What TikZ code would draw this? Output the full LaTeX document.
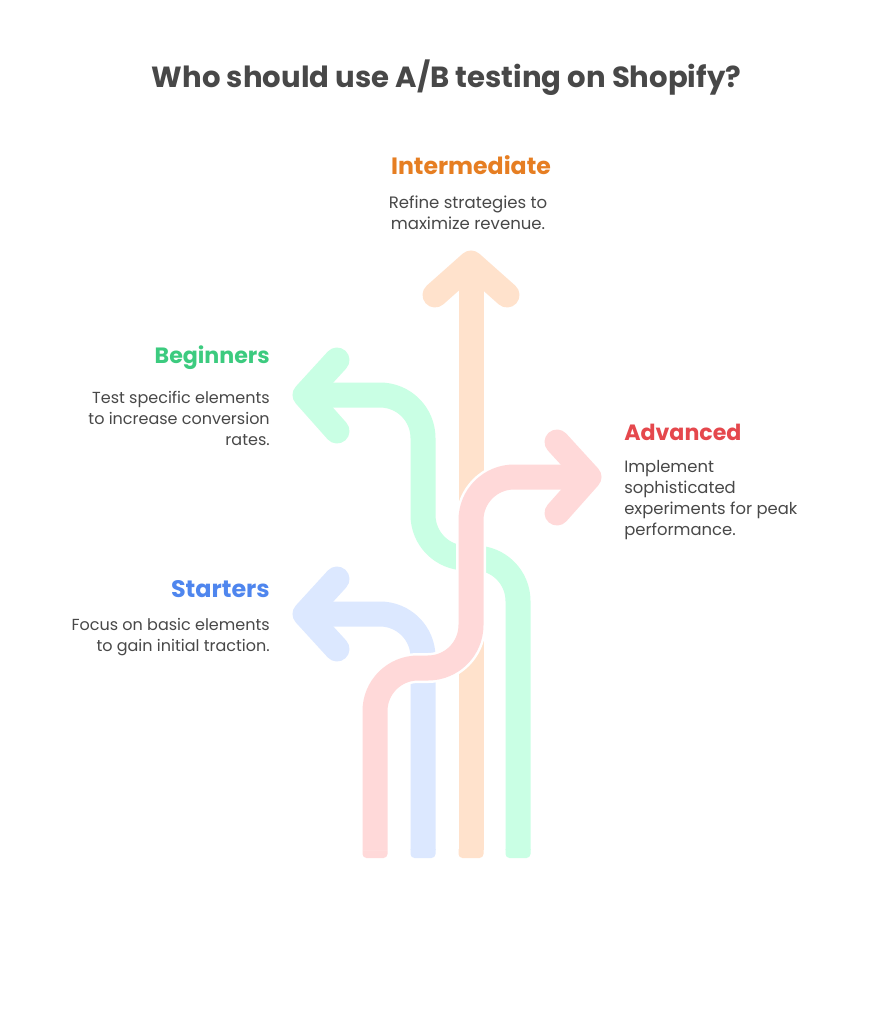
\documentclass[tikz,border=0pt]{standalone}
\usepackage{fontspec}
\setmainfont{Poppins}
\definecolor{redpale}{HTML}{FFD9D9}
\definecolor{bluepale}{HTML}{DCE8FF}
\definecolor{orangepale}{HTML}{FFE2CC}
\definecolor{greenpale}{HTML}{C9FFE4}
\definecolor{redhead}{HTML}{E5484D}
\definecolor{bluehead}{HTML}{4F86EE}
\definecolor{orangehead}{HTML}{E67E22}
\definecolor{greenhead}{HTML}{3CCB7F}
\definecolor{inkgrey}{HTML}{484848}
\tikzset{
	band/.style={line width=18.75pt,line join=round},
	tip/.style={line width=18.75pt,line join=round,line cap=round},
	halo/.style={line width=22.5pt,white},
	heading/.style={font=\fontsize{#1}{20}\selectfont\bfseries,inner sep=0pt},
	body/.style={font=\fontsize{#1}{15.75}\selectfont,text=inkgrey,inner sep=0pt}
}
\begin{document}
\begin{tikzpicture}[x=0.75pt,y=-0.75pt]
	\useasboundingbox (0,0) rectangle (893,1024);
	\fill[white] (0,0) rectangle (893,1024);
	\draw[band,orangepale] (471,850) -- (471,270);
	\draw[tip,orangepale] (435,295) -- (471,263) -- (507,295);
	\draw[band,greenpale] (518,850) -- (518,601) arc (0:-90:43) -- (466,558) arc (90:180:43) -- (423,438) arc (0:-90:43) -- (320,395);
	\draw[tip,greenpale] (337,360) -- (305,395) -- (337,431);
	\draw[band,bluepale] (423,850) -- (423,657) arc (0:-90:43) -- (320,614);
	\draw[tip,bluepale] (337,579) -- (305,614) -- (337,649);
	\foreach \x/\c in {375/redpale,423/bluepale,471/orangepale,518/greenpale}
		\fill[\c] (\x-12.5,849) [rounded corners=3pt] -- (\x-12.5,858) -- (\x+12.5,858) [sharp corners] -- (\x+12.5,849) -- cycle;
	\draw[halo] (375,850) -- (375,711) arc (180:270:43) -- (428,668) arc (90:0:43) -- (471,520) arc (180:270:43) -- (575,477);
	\draw[band,redpale] (375,850) -- (375,711) arc (180:270:43) -- (428,668) arc (90:0:43) -- (471,520) arc (180:270:43) -- (575,477);
	\draw[tip,redpale] (557,442) -- (589,477) -- (557,513);
	\node[heading=21.85,text=inkgrey] (title) at (446.5,78) {Who should use A/B testing on Shopify?};
	\node[heading=17.7,text=orangehead] (intermediate) at (471,165) {Intermediate};
	\node[body=12.4,align=center] (intermediatetext) at (468,213) {Refine strategies to\\maximize revenue.};
	\node[heading=16.6,text=greenhead,anchor=east] (beginners) at (270,358) {Beginners};
	\node[body=12,align=right,anchor=east] (beginnerstext) at (270,418) {Test specific elements\\to increase conversion\\rates.};
	\node[heading=17.9,text=bluehead,anchor=east] (starters) at (270,589) {Starters};
	\node[body=12,align=right,anchor=east] (starterstext) at (270,637) {Focus on basic elements\\to gain initial traction.};
	\node[heading=16.6,text=redhead,anchor=west] (advanced) at (624,432) {Advanced};
	\node[body=12.3,align=left,anchor=west] (advancedtext) at (624,500.5) {Implement\\sophisticated\\experiments for peak\\performance.};
\end{tikzpicture}
\end{document}
